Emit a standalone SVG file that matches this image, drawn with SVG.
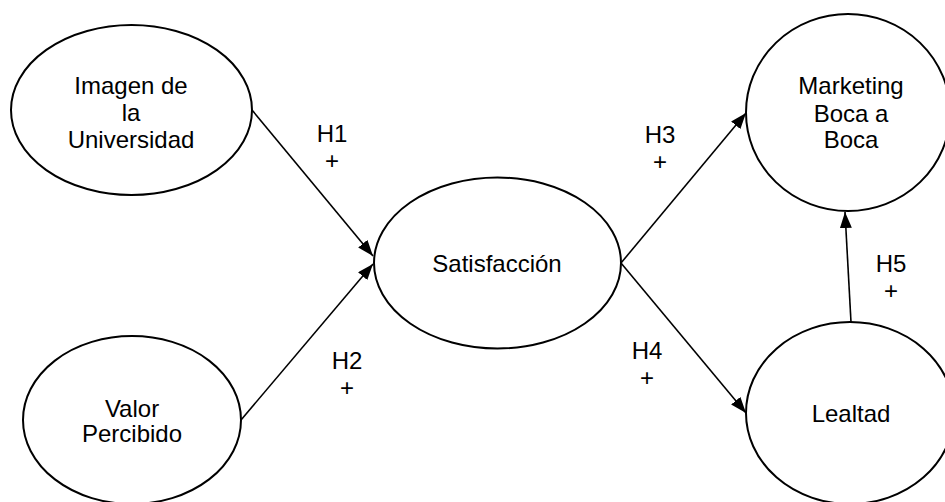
<svg xmlns="http://www.w3.org/2000/svg" width="945" height="502" viewBox="0 0 945 502">
<style>
.node ellipse{fill:#fff;stroke:#000;stroke-width:2}
text{font-family:"Liberation Sans",Arial,Helvetica,sans-serif;font-size:24px;fill:#000;text-anchor:middle}
.edges line{stroke:#000;stroke-width:1.6;fill:none}
</style>
<defs>
<marker id="arr" viewBox="0 0 16 12" refX="16" refY="6" markerWidth="16" markerHeight="12" markerUnits="userSpaceOnUse" orient="auto">
<path d="M0,0 L16,6 L0,12 Z" fill="#000"/>
</marker>
</defs>
<rect width="945" height="502" fill="#fff"/>
<g class="edges">
<line x1="252" y1="110" x2="373" y2="256" marker-end="url(#arr)"/>
<line x1="241" y1="420" x2="373" y2="264" marker-end="url(#arr)"/>
<line x1="621" y1="263" x2="746" y2="113" marker-end="url(#arr)"/>
<line x1="621" y1="263" x2="746" y2="413" marker-end="url(#arr)"/>
<line x1="851" y1="322" x2="845" y2="212" marker-end="url(#arr)"/>
<text x="332" y="142">H1</text><text x="332" y="169">+</text>
<text x="347" y="369">H2</text><text x="347" y="396">+</text>
<text x="660" y="143">H3</text><text x="660" y="170">+</text>
<text x="647" y="359">H4</text><text x="647" y="386">+</text>
<text x="891" y="272">H5</text><text x="891" y="299">+</text>
</g>
<g id="imagen" class="node">
<ellipse cx="131.5" cy="110" rx="120.5" ry="85"/>
<text x="131" y="94">Imagen de</text>
<text x="131" y="121">la</text>
<text x="131" y="148">Universidad</text>
</g>
<g id="valor" class="node">
<ellipse cx="132" cy="420" rx="109" ry="84"/>
<text x="132" y="417">Valor</text>
<text x="132" y="442">Percibido</text>
</g>
<g id="satisfaccion" class="node">
<ellipse cx="497.5" cy="263" rx="123.5" ry="85.5"/>
<text x="497" y="272">Satisfacción</text>
</g>
<g id="marketing" class="node">
<ellipse cx="848" cy="112.5" rx="102" ry="98.5"/>
<text x="851" y="94">Marketing</text>
<text x="851" y="122">Boca a</text>
<text x="851" y="148">Boca</text>
</g>
<g id="lealtad" class="node">
<ellipse cx="850" cy="413" rx="104" ry="91"/>
<text x="851" y="422">Lealtad</text>
</g>
</svg>
